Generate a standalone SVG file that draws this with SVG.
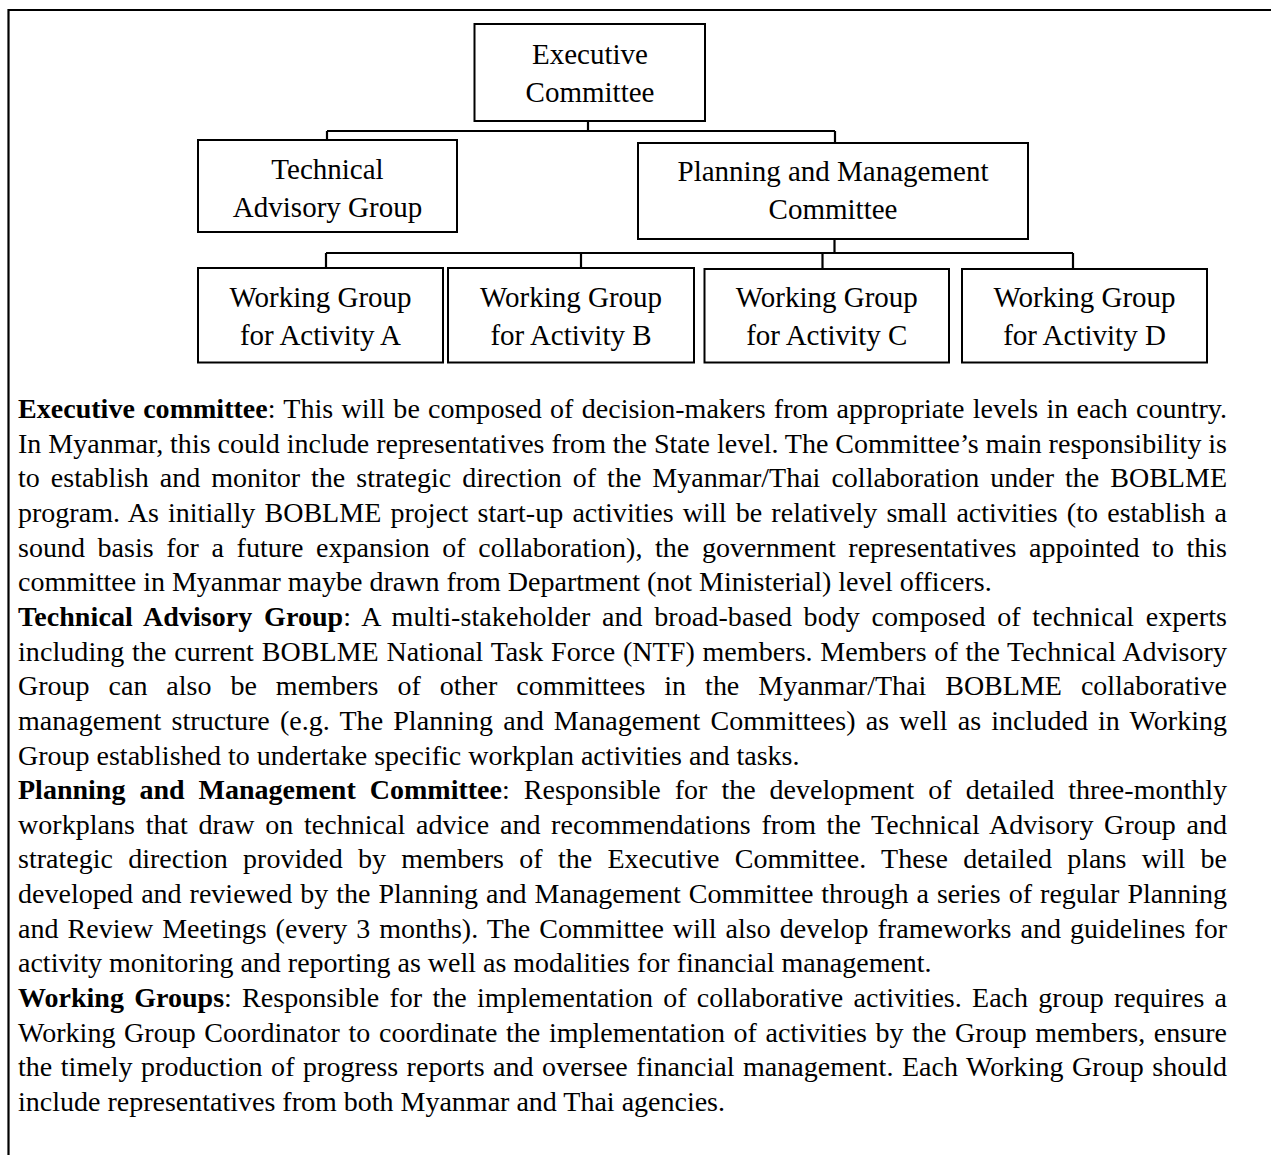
<svg xmlns="http://www.w3.org/2000/svg" width="1271" height="1155" viewBox="0 0 1271 1155">
<style>
.box{fill:#fff;stroke:#000;stroke-width:2}
.ln{fill:none;stroke:#000;stroke-width:2.2}
.n{font-family:"Liberation Serif","Times New Roman",serif;font-size:29px;fill:#000;text-anchor:middle}
.t{font-family:"Liberation Serif","Times New Roman",serif;font-size:28px;fill:#000}
.b{font-weight:bold}
</style>
<rect width="1271" height="1155" fill="#fff"/>
<path class="ln" d="M8.5,1155 V10 H1271" stroke-width="2"/>
<g id="connectors">
<path class="ln" d="M588,121 V131 M327,131 H835 M327,131 V140 M835,131 V143"/>
<path class="ln" d="M834.5,239 V253 M326,253 H1073 M326,253 V268 M581,253 V268 M822.5,253 V269 M1073,253 V269"/>
</g>
<g id="executive-committee">
<rect class="box" x="474.5" y="24" width="230.5" height="97"/>
<text class="n" x="590" y="64">Executive</text>
<text class="n" x="590" y="102">Committee</text>
</g>
<g id="technical-advisory-group">
<rect class="box" x="198" y="140" width="259" height="92"/>
<text class="n" x="327.5" y="179">Technical</text>
<text class="n" x="327.5" y="217">Advisory Group</text>
</g>
<g id="planning-management-committee">
<rect class="box" x="638" y="143" width="390" height="96"/>
<text class="n" x="833" y="181">Planning and Management</text>
<text class="n" x="833" y="219">Committee</text>
</g>
<g id="wg-a">
<rect class="box" x="198" y="268" width="245" height="94.5"/>
<text class="n" x="320.5" y="307">Working Group</text>
<text class="n" x="320.5" y="345">for Activity A</text>
</g>
<g id="wg-b">
<rect class="box" x="448" y="268" width="246" height="94.5"/>
<text class="n" x="571" y="307">Working Group</text>
<text class="n" x="571" y="345">for Activity B</text>
</g>
<g id="wg-c">
<rect class="box" x="704.5" y="269" width="244.5" height="93.5"/>
<text class="n" x="826.75" y="307">Working Group</text>
<text class="n" x="826.75" y="345">for Activity C</text>
</g>
<g id="wg-d">
<rect class="box" x="962" y="269" width="245" height="93.5"/>
<text class="n" x="1084.5" y="307">Working Group</text>
<text class="n" x="1084.5" y="345">for Activity D</text>
</g>
<g id="description">
<text class="t" x="18" y="418" word-spacing="1.2" textLength="1209" lengthAdjust="spacing"><tspan class="b">Executive committee</tspan>: This will be composed of decision-makers from appropriate levels in each country.</text>
<text class="t" x="18" y="453" word-spacing="-0.2" textLength="1209" lengthAdjust="spacing">In Myanmar, this could include representatives from the State level. The Committee’s main responsibility is</text>
<text class="t" x="18" y="487" word-spacing="4.0" textLength="1209" lengthAdjust="spacing">to establish and monitor the strategic direction of the Myanmar/Thai collaboration under the BOBLME</text>
<text class="t" x="18" y="522" word-spacing="2.2" textLength="1209" lengthAdjust="spacing">program. As initially BOBLME project start-up activities will be relatively small activities (to establish a</text>
<text class="t" x="18" y="557" word-spacing="5.6" textLength="1209" lengthAdjust="spacing">sound basis for a future expansion of collaboration), the government representatives appointed to this</text>
<text class="t" x="18" y="591">committee in Myanmar maybe drawn from Department (not Ministerial) level officers.</text>
<text class="t" x="18" y="626" word-spacing="4.5" textLength="1209" lengthAdjust="spacing"><tspan class="b">Technical Advisory Group</tspan>: A multi-stakeholder and broad-based body composed of technical experts</text>
<text class="t" x="18" y="661" word-spacing="0.6" textLength="1209" lengthAdjust="spacing">including the current BOBLME National Task Force (NTF) members. Members of the Technical Advisory</text>
<text class="t" x="18" y="695" word-spacing="12.0" textLength="1209" lengthAdjust="spacing">Group can also be members of other committees in the Myanmar/Thai BOBLME collaborative</text>
<text class="t" x="18" y="730" word-spacing="3.1" textLength="1209" lengthAdjust="spacing">management structure (e.g. The Planning and Management Committees) as well as included in Working</text>
<text class="t" x="18" y="765">Group established to undertake specific workplan activities and tasks.</text>
<text class="t" x="18" y="799" word-spacing="7.0" textLength="1209" lengthAdjust="spacing"><tspan class="b">Planning and Management Committee</tspan>: Responsible for the development of detailed three-monthly</text>
<text class="t" x="18" y="834" word-spacing="3.6" textLength="1209" lengthAdjust="spacing">workplans that draw on technical advice and recommendations from the Technical Advisory Group and</text>
<text class="t" x="18" y="868" word-spacing="8.3" textLength="1209" lengthAdjust="spacing">strategic direction provided by members of the Executive Committee. These detailed plans will be</text>
<text class="t" x="18" y="903" word-spacing="1.0" textLength="1209" lengthAdjust="spacing">developed and reviewed by the Planning and Management Committee through a series of regular Planning</text>
<text class="t" x="18" y="938" word-spacing="1.9" textLength="1209" lengthAdjust="spacing">and Review Meetings (every 3 months). The Committee will also develop frameworks and guidelines for</text>
<text class="t" x="18" y="972">activity monitoring and reporting as well as modalities for financial management.</text>
<text class="t" x="18" y="1007" word-spacing="3.2" textLength="1209" lengthAdjust="spacing"><tspan class="b">Working Groups</tspan>: Responsible for the implementation of collaborative activities. Each group requires a</text>
<text class="t" x="18" y="1042" word-spacing="1.6" textLength="1209" lengthAdjust="spacing">Working Group Coordinator to coordinate the implementation of activities by the Group members, ensure</text>
<text class="t" x="18" y="1076" word-spacing="1.5" textLength="1209" lengthAdjust="spacing">the timely production of progress reports and oversee financial management. Each Working Group should</text>
<text class="t" x="18" y="1111">include representatives from both Myanmar and Thai agencies.</text>
</g>
</svg>
